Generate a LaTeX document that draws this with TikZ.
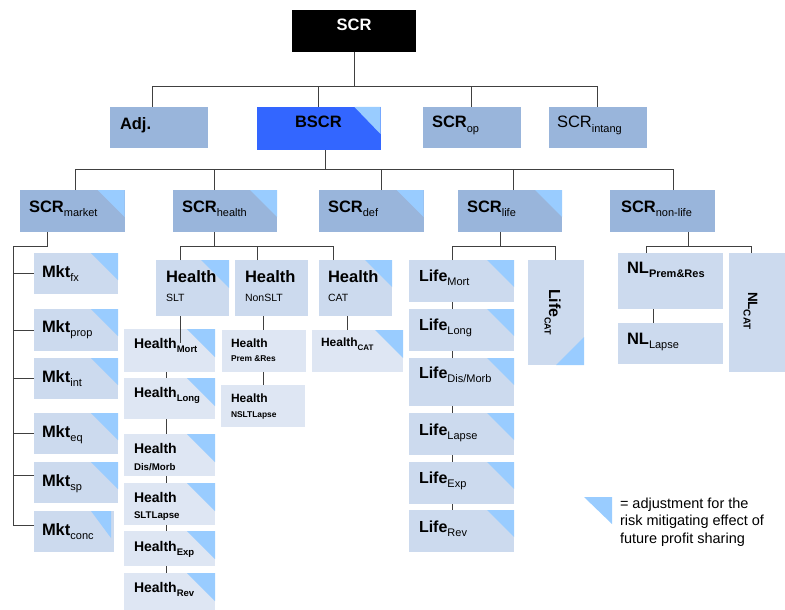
\documentclass[tikz,border=0pt]{standalone}
\usepackage{fontspec}
\setmainfont{Liberation Sans}
\usetikzlibrary{fit}
\definecolor{midb}{HTML}{99B5DB}
\definecolor{lb}{HTML}{CCDAEE}
\definecolor{vlb}{HTML}{DEE6F3}
\definecolor{trib}{HTML}{99CCFF}
\definecolor{bscrb}{HTML}{3366FF}
\definecolor{lnc}{HTML}{404040}
\newcommand\fs[1]{\fontsize{#1}{#1}\selectfont}
\newcommand\Sb[2]{\raisebox{-4.5pt}{\fs{#1}#2}}
\begin{document}
\begin{tikzpicture}[x=1pt,y=-1pt,
  box/.style={inner sep=0pt,outer sep=0pt,draw=none},
  tri/.style={fill=trib},
  con/.style={draw=lnc,line width=0.9pt},
  txt/.style={inner sep=0pt,outer sep=0pt,anchor=base west}]
\useasboundingbox (0,0) rectangle (785,610);
% ---------- boxes ----------
\node[box,fill=black,fit={(292,10) (416,52)}] (scr) {};
\node[box,fill=midb,fit={(110,107) (208,148)}] (adj) {};
\node[box,fill=bscrb,fit={(256.5,107) (380.5,150)}] (bscr) {};
\node[box,fill=midb,fit={(422.5,107) (521,148)}] (scrop) {};
\node[box,fill=midb,fit={(548.5,107) (646.5,148)}] (scrint) {};
\node[box,fill=midb,fit={(20,190) (124.5,232)}] (scrm) {};
\node[box,fill=midb,fit={(173,190) (277,232)}] (scrh) {};
\node[box,fill=midb,fit={(318.5,190) (423.5,232)}] (scrd) {};
\node[box,fill=midb,fit={(457.5,190) (562,232)}] (scrl) {};
\node[box,fill=midb,fit={(610,190) (715,232)}] (scrn) {};
% market
\node[box,fill=lb,fit={(34,253) (118,294)}] (mfx) {};
\node[box,fill=lb,fit={(34,309) (118,351)}] (mprop) {};
\node[box,fill=lb,fit={(34,358) (118,399)}] (mint) {};
\node[box,fill=lb,fit={(34,413) (118,454)}] (meq) {};
\node[box,fill=lb,fit={(34,462) (118,503)}] (msp) {};
\node[box,fill=lb,fit={(34,511) (114,552)}] (mconc) {};
% health
\node[box,fill=lb,fit={(156,260) (229,316)}] (hslt) {};
\node[box,fill=lb,fit={(235,260) (308,316)}] (hnslt) {};
\node[box,fill=lb,fit={(319,260) (392,316)}] (hcat) {};
\node[box,fill=vlb,fit={(124,329) (215,372)}] (hmort) {};
\node[box,fill=vlb,fit={(124,378) (215,419)}] (hlong) {};
\node[box,fill=vlb,fit={(124,434) (215,476)}] (hdis) {};
\node[box,fill=vlb,fit={(124,483) (215,525)}] (hsltl) {};
\node[box,fill=vlb,fit={(124,531) (215,566)}] (hexp) {};
\node[box,fill=vlb,fit={(124,573) (215,610)}] (hrev) {};
\node[box,fill=vlb,fit={(222,330) (306,372)}] (hpr) {};
\node[box,fill=vlb,fit={(221,385) (305,427)}] (hnl) {};
\node[box,fill=vlb,fit={(312,330) (403,372)}] (hcat2) {};
% life
\node[box,fill=lb,fit={(409,260) (514,302)}] (lmort) {};
\node[box,fill=lb,fit={(409,309) (514,351)}] (llong) {};
\node[box,fill=lb,fit={(409,358) (514,406)}] (ldis) {};
\node[box,fill=lb,fit={(409,413) (514,455)}] (llapse) {};
\node[box,fill=lb,fit={(409,462) (514,504)}] (lexp) {};
\node[box,fill=lb,fit={(409,510) (514,552)}] (lrev) {};
\node[box,fill=lb,fit={(528,260) (584,365)}] (lcat) {};
% non-life
\node[box,fill=lb,fit={(618,253) (723,309)}] (nlpr) {};
\node[box,fill=lb,fit={(618,323) (723,364)}] (nllapse) {};
\node[box,fill=lb,fit={(729,253) (785,372)}] (nlcat) {};
% ---------- triangles ----------
\fill[tri] (bscr.north east) -- ++(-26,0) -- ++(26,27) -- cycle;
\foreach \n in {scrm,scrh,scrd,scrl,mfx,mprop,mint,meq,msp,hcat,lmort,llong,ldis,llapse,lexp,lrev}
  {\fill[tri] (\n.north east) -- ++(-27,0) -- ++(27,27) -- cycle;}
\foreach \n in {hslt,hmort,hlong,hdis,hsltl,hexp,hrev,hcat2}
  {\fill[tri] (\n.north east) -- ++(-28,0) -- ++(28,28) -- cycle;}
\fill[tri] ([xshift=-3pt]mconc.north east) -- ++(-20,0) -- ++(20,27) -- cycle;
\fill[tri] (lcat.south east) -- ++(0,-28) -- ++(-28,28) -- cycle;
% ---------- connectors ----------
\coordinate (b1) at (354,86);
\draw[con] (scr.south) -- (b1);
\draw[con] ([xshift=-6.5pt]adj.north) |- (b1);
\draw[con] (bscr.north) |- (b1);
\draw[con] (scrop.north) |- (b1);
\draw[con] (scrint.north) |- (b1);
\coordinate (b2) at (325,169);
\draw[con] ([xshift=6.5pt]bscr.south) -- (b2);
\draw[con] ([xshift=3pt]scrm.north) |- (b2);
\draw[con] ([xshift=-11pt]scrh.north) |- (b2);
\draw[con] ([xshift=10pt]scrd.north) |- (b2);
\draw[con] ([xshift=3.75pt]scrl.north) |- (b2);
\draw[con] ([xshift=10.5pt]scrn.north) |- (b2);
% market
\coordinate (mb) at (13,246);
\coordinate (mspb) at ([yshift=7.5pt]msp.west);
\coordinate (mconcb) at ([yshift=6.5pt]mconc.west);
\draw[con] ([xshift=-25pt]scrm.south) |- (mb) |- (mconcb);
\draw[con] (mb |- mfx.west) -- (mfx.west);
\draw[con] (mb |- mprop.west) -- (mprop.west);
\draw[con] (mb |- mint.west) -- (mint.west);
\draw[con] (mb |- meq.west) -- (meq.west);
\draw[con] (mb |- mspb) -- (mspb);
% health
\coordinate (hb) at (214,246);
\draw[con] ([xshift=-11pt]scrh.south) -- (hb);
\draw[con] ([xshift=-12.5pt]hslt.north) |- (hb);
\draw[con] ([xshift=-14.5pt]hnslt.north) |- (hb);
\draw[con] ([xshift=-22.5pt]hcat.north) |- (hb);
\draw[con] ([xshift=-12.5pt]hslt.south) -- ([xshift=10.5pt,yshift=-14pt]hmort.north);
\draw[con] ([xshift=-3.5pt]hmort.south) -- ([xshift=-3.5pt]hlong.north);
\draw[con] ([xshift=-3.5pt]hlong.south) -- ([xshift=-3.5pt]hdis.north);
\draw[con] ([xshift=-3.5pt]hdis.south) -- ([xshift=-3.5pt]hsltl.north);
\draw[con] ([xshift=-3.5pt]hsltl.south) -- ([xshift=-3.5pt]hexp.north);
\draw[con] ([xshift=-3.5pt]hexp.south) -- ([xshift=-3.5pt]hrev.north);
\draw[con] ([xshift=-8.5pt]hnslt.south) -- ([xshift=-1pt]hpr.north);
\draw[con] ([xshift=-1pt]hpr.south) -- (hnl.north);
\draw[con] ([xshift=-8.5pt]hcat.south) -- ([xshift=-10.5pt]hcat2.north);
% life
\coordinate (lbus) at (500,246);
\draw[con] ([xshift=-9.75pt]scrl.south) -- (lbus);
\draw[con] ([xshift=-9.5pt]lmort.north) |- (lbus);
\draw[con] ([xshift=-1pt]lcat.north) |- (lbus);
\draw[con] ([xshift=-9.5pt]lmort.south) -- ([xshift=-9.5pt]llong.north);
\draw[con] ([xshift=-9.5pt]llong.south) -- ([xshift=-9.5pt]ldis.north);
\draw[con] ([xshift=-9.5pt]ldis.south) -- ([xshift=-9.5pt]llapse.north);
\draw[con] ([xshift=-9.5pt]llapse.south) -- ([xshift=-9.5pt]lexp.north);
\draw[con] ([xshift=-9.5pt]lexp.south) -- ([xshift=-9.5pt]lrev.north);
% non-life
\coordinate (nb) at (688,246);
\draw[con] ([xshift=25.5pt]scrn.south) -- (nb);
\draw[con] ([xshift=-24.5pt]nlpr.north) |- (nb);
\draw[con] ([xshift=-6pt]nlcat.north) |- (nb);
\draw[con] ([xshift=-17.5pt]nlpr.south) -- ([xshift=-17.5pt]nllapse.north);
% ---------- texts ----------
\node[txt,anchor=base,text=white] (t-scr) at (354,31) {\fs{16.5}\bfseries SCR};
\node[txt] (t-adj) at (120,129) {\fs{16.5}\bfseries Adj.};
\node[txt] (t-bscr) at (295,128) {\fs{16.5}\bfseries BSCR};
\node[txt] (t-scrop) at (432,128) {\fs{16.5}\bfseries SCR\Sb{11}{\mdseries op}};
\node[txt] (t-scrint) at (557,128) {\fs{16.5}SCR\Sb{11}{intang}};
\node[txt] (t-scrm) at (29,212) {\fs{16.5}\bfseries SCR\Sb{11}{\mdseries market}};
\node[txt] (t-scrh) at (182,212) {\fs{16.5}\bfseries SCR\Sb{11}{\mdseries health}};
\node[txt] (t-scrd) at (328,212) {\fs{16.5}\bfseries SCR\Sb{11}{\mdseries def}};
\node[txt] (t-scrl) at (467,212) {\fs{16.5}\bfseries SCR\Sb{11}{\mdseries life}};
\node[txt] (t-scrn) at (621,212) {\fs{16.5}\bfseries SCR\Sb{11}{\mdseries non-life}};
% market
\node[txt] (t-mfx) at (42,277) {\fs{16.5}\bfseries Mkt\Sb{11}{\mdseries fx}};
\node[txt] (t-mprop) at (42,332) {\fs{16.5}\bfseries Mkt\Sb{11}{\mdseries prop}};
\node[txt] (t-mint) at (42,382) {\fs{16.5}\bfseries Mkt\Sb{11}{\mdseries int}};
\node[txt] (t-meq) at (42,437) {\fs{16.5}\bfseries Mkt\Sb{11}{\mdseries eq}};
\node[txt] (t-msp) at (42,486) {\fs{16.5}\bfseries Mkt\Sb{11}{\mdseries sp}};
\node[txt] (t-mconc) at (42,535) {\fs{16.5}\bfseries Mkt\Sb{11}{\mdseries conc}};
% health
\node[txt] (t-hslt) at (166,282) {\fs{16.5}\bfseries Health};
\node[txt] (t-hslt2) at (166,301) {\fs{10.5}SLT};
\node[txt] (t-hnslt) at (245,282) {\fs{16.5}\bfseries Health};
\node[txt] (t-hnslt2) at (245,301) {\fs{10.5}NonSLT};
\node[txt] (t-hcat) at (328,282) {\fs{16.5}\bfseries Health};
\node[txt] (t-hcat2) at (328,301) {\fs{10.5}CAT};
\node[txt] (t-hmort) at (134,348) {\fs{14}\bfseries Health\Sb{9.5}{Mort}};
\node[txt] (t-hlong) at (134,397) {\fs{14}\bfseries Health\Sb{9.5}{Long}};
\node[txt] (t-hdis) at (134,453) {\fs{14}\bfseries Health};
\node[txt] (t-hdis2) at (134,470) {\fs{9.7}\bfseries Dis/Morb};
\node[txt] (t-hsltl) at (134,502) {\fs{14}\bfseries Health};
\node[txt] (t-hsltl2) at (134,518) {\fs{9.7}\bfseries SLTLapse};
\node[txt] (t-hexp) at (134,551) {\fs{14}\bfseries Health\Sb{9.5}{Exp}};
\node[txt] (t-hrev) at (134,592) {\fs{14}\bfseries Health\Sb{9.5}{Rev}};
\node[txt] (t-hpr) at (231,347) {\fs{12}\bfseries Health};
\node[txt] (t-hpr2) at (231,361) {\fs{8.4}\bfseries Prem \&Res};
\node[txt] (t-hnl) at (231,402) {\fs{12}\bfseries Health};
\node[txt] (t-hnl2) at (231,417) {\fs{8.4}\bfseries NSLTLapse};
\node[txt] (t-hcatb) at (321,346) {\fs{12}\bfseries Health\Sb{8}{CAT}};
% life
\node[txt] (t-lmort) at (419,281) {\fs{16}\bfseries Life\Sb{11}{\mdseries Mort}};
\node[txt] (t-llong) at (419,330) {\fs{16}\bfseries Life\Sb{11}{\mdseries Long}};
\node[txt] (t-ldis) at (419,378) {\fs{16}\bfseries Life\Sb{11}{\mdseries Dis/Morb}};
\node[txt] (t-llapse) at (419,435) {\fs{16}\bfseries Life\Sb{11}{\mdseries Lapse}};
\node[txt] (t-lexp) at (419,483) {\fs{16}\bfseries Life\Sb{11}{\mdseries Exp}};
\node[txt] (t-lrev) at (419,532) {\fs{16}\bfseries Life\Sb{11}{\mdseries Rev}};
\node[txt,rotate=-90] (t-lcat) at (549,289) {\fs{16}\bfseries Life\Sb{9}{CAT}};
% non-life
\node[txt] (t-nlpr) at (627,273) {\fs{16.5}\bfseries NL\Sb{11}{Prem\&Res}};
\node[txt] (t-nllapse) at (627,344) {\fs{16.5}\bfseries NL\Sb{11}{\mdseries Lapse}};
\node[txt,rotate=-90] (t-nlcat) at (748,292) {\fs{13.5}\bfseries NL\Sb{10}{CAT}};
% ---------- legend ----------
\fill[tri] (584,497) -- (612,497) -- (612,524) -- cycle;
\node[txt] (leg1) at (620,508) {\fs{14.5}= adjustment for the};
\node[txt] (leg2) at (620,525.5) {\fs{14.5}risk mitigating effect of};
\node[txt] (leg3) at (620,543) {\fs{14.5}future profit sharing};
\end{tikzpicture}
\end{document}
